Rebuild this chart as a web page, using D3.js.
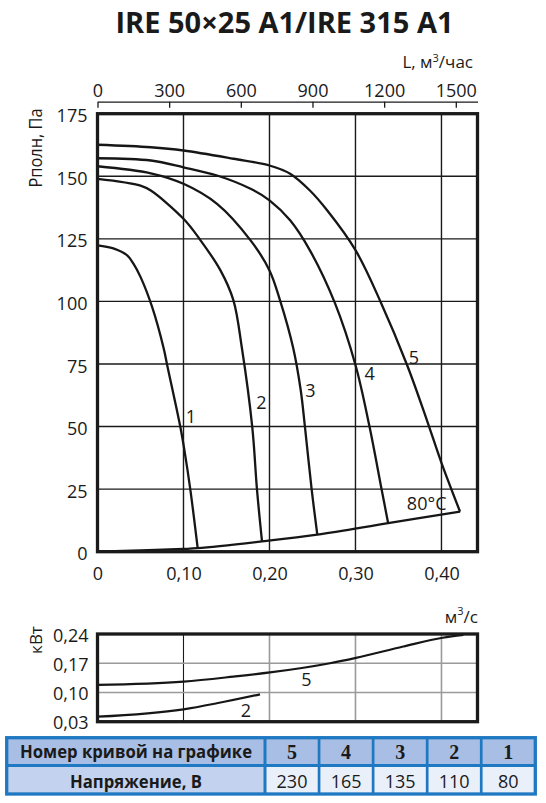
<!DOCTYPE html>
<html>
<head>
<meta charset="utf-8">
<script src="https://cdn.jsdelivr.net/npm/d3@7"></script>
<style>
  body { margin: 0; background: #fff; }
  svg { display: block; font-family: "Open Sans", sans-serif; fill: #1a1a1a; }
</style>
</head>
<body>
<div id="chart"></div>
<script>
// ticks
var flowTicks = [0, 0.1, 0.2, 0.3, 0.4];          // м³/с
var hourTicks = [0, 300, 600, 900, 1200, 1500];    // м³/час
var pressureTicks = [0, 25, 50, 75, 100, 125, 150, 175];
var powerTicks = [0.03, 0.10, 0.17, 0.24];

// fan curves, Q in м³/с, P in Па
var curve1Q = [0, 0.0184, 0.0345, 0.0416, 0.050, 0.0635, 0.077, 0.081, 0.0964, 0.101, 0.108, 0.1165];
var curve1P = [122.4, 121.2, 118.4, 115.2, 109.8, 97.8, 81.2, 74.6, 49.7, 40.7, 24.7, 1.4];
var curve2Q = [0, 0.050, 0.062, 0.100, 0.119, 0.143, 0.158, 0.168, 0.180, 0.1855, 0.1913];
var curve2P = [149, 146.3, 144.3, 133, 124.8, 112.4, 100.5, 81.2, 49.7, 24.7, 4.1];
var curve3Q = [0, 0.062, 0.100, 0.139, 0.178, 0.200, 0.2122, 0.2277, 0.2363, 0.2413, 0.2491, 0.2556];
var curve3P = [154, 151.2, 147, 139, 124.4, 112.4, 100.5, 81.2, 64.6, 49.7, 24.7, 6.8];
var curve4Q = [0, 0.062, 0.100, 0.139, 0.178, 0.200, 0.224, 0.247, 0.276, 0.300, 0.316, 0.3305, 0.338];
var curve4P = [157.2, 156.3, 153.6, 150.3, 145, 140.4, 132.4, 120.4, 99.4, 74.6, 50.5, 24.7, 11.4];
var curve5Q = [0, 0.062, 0.100, 0.158, 0.200, 0.224, 0.247, 0.267, 0.300, 0.329, 0.360, 0.383, 0.400, 0.4216];
var curve5P = [162.6, 161.6, 160.3, 157.0, 154.3, 151, 144.3, 136.4, 120.5, 100, 74.6, 52.6, 35.5, 16];

// 80°C line joining the curve ends
var systemQ = [0, 0.05, 0.1, 0.1165, 0.1913, 0.2556, 0.338, 0.4216];
var systemP = [0, 0.5, 1.1, 1.4, 4.1, 6.8, 11.4, 16];

// curve number labels (anchor point in Q / P)
var labelText = ["1", "2", "3", "4", "5", "80°C"];
var labelQ = [0.1087, 0.1905, 0.2477, 0.3165, 0.368, 0.3828];
var labelP = [51.3, 56.9, 61.9, 68.6, 75.0, 16.7];

// power, кВт
var power5Q = [0, 0.1, 0.158, 0.2006, 0.2703, 0.3006, 0.3556, 0.4014, 0.4256];
var power5N = [0.118, 0.126, 0.138, 0.148, 0.170, 0.183, 0.210, 0.231, 0.238];
var power2Q = [0, 0.1, 0.1387, 0.189];
var power2N = [0.042, 0.0597, 0.0741, 0.0956];
var powerLabelText = ["5", "2"];
var powerLabelQ = [0.243, 0.1727];
var powerLabelN = [0.1162, 0.042];

// table
var tableCurves = [5, 4, 3, 2, 1];
var tableVoltage = [230, 165, 135, 110, 80];

var W = 546, H = 803;
var svg = d3.select("#chart").append("svg")
    .attr("width", W)
    .attr("height", H);

var qMax = 0.4419;
var x = d3.scaleLinear().domain([0, qMax]).range([97.5, 477.5]);
var xh = d3.scaleLinear().domain([0, qMax * 3600]).range([97.5, 477.5]);
var y = d3.scaleLinear().domain([0, 175]).range([551.7, 113.7]);
var yp = d3.scaleLinear().domain([0.03, 0.24]).range([721.7, 634]);

function comma(v) {
    return v === 0 ? "0" : d3.format(".2f")(v).replace(".", ",");
}

// title
svg.append("text")
    .attr("x", 284.5).attr("y", 32.5)
    .attr("text-anchor", "middle")
    .attr("textLength", 338).attr("lengthAdjust", "spacingAndGlyphs")
    .style("font-size", "28px").style("font-weight", "bold")
    .text("IRE 50×25 A1/IRE 315 A1");

// top axis, м³/час
var topAxis = svg.append("g")
    .attr("transform", "translate(0,101.7)")
    .call(d3.axisTop(xh).tickValues(hourTicks).tickFormat(d3.format("d"))
        .tickSizeInner(-6).tickSizeOuter(0).tickPadding(5));
topAxis.selectAll("path, line").attr("stroke", "#1a1a1a").attr("stroke-width", 1.3);
topAxis.selectAll("text").style("font-size", "18px").style("font-family", "Open Sans").attr("fill", "#1a1a1a");

var lt = svg.append("text")
    .attr("x", 473).attr("y", 67.7)
    .attr("text-anchor", "end")
    .style("font-size", "17px");
lt.append("tspan").text("L, м");
lt.append("tspan").attr("dy", -6).style("font-size", "11px").text("3");
lt.append("tspan").attr("dy", 6).text("/час");

// main grid
var grid = svg.append("g").attr("stroke", "#1a1a1a").attr("stroke-width", 1.4);
grid.selectAll(".vx").data(flowTicks.slice(1)).enter().append("line")
    .attr("x1", d => x(d)).attr("x2", d => x(d))
    .attr("y1", y(0)).attr("y2", y(175));
grid.selectAll(".hy").data(pressureTicks.slice(1, -1)).enter().append("line")
    .attr("x1", x(0)).attr("x2", x(qMax))
    .attr("y1", d => y(d)).attr("y2", d => y(d));

// curves
var line = d3.line()
    .x(d => x(d[0]))
    .y(d => y(d[1]))
    .curve(d3.curveCatmullRom.alpha(0.5));

var curves = [
    [curve1Q, curve1P], [curve2Q, curve2P], [curve3Q, curve3P],
    [curve4Q, curve4P], [curve5Q, curve5P], [systemQ, systemP]
];
svg.append("g").selectAll("path")
    .data(curves.map(c => d3.zip(c[0], c[1])))
    .enter().append("path")
    .attr("d", line)
    .attr("fill", "none")
    .attr("stroke", "#161616")
    .attr("stroke-width", 2.3)
    .attr("stroke-linejoin", "round");

// border
svg.append("rect")
    .attr("x", x(0)).attr("y", y(175))
    .attr("width", x(qMax) - x(0)).attr("height", y(0) - y(175))
    .attr("fill", "none").attr("stroke", "#1a1a1a").attr("stroke-width", 3.3);

// curve labels
svg.append("g").selectAll("text")
    .data(labelText)
    .enter().append("text")
    .attr("x", (d, i) => x(labelQ[i]))
    .attr("y", (d, i) => y(labelP[i]))
    .attr("text-anchor", "middle")
    .style("font-size", "18px")
    .text(d => d);

// left axis
var leftAxis = svg.append("g")
    .attr("transform", "translate(" + x(0) + ",0)")
    .call(d3.axisLeft(y).tickValues(pressureTicks).tickSize(0).tickPadding(10));
leftAxis.select(".domain").remove();
leftAxis.selectAll("text").attr("dy", "0.45em").style("font-size", "18px")
    .style("font-family", "Open Sans").attr("fill", "#1a1a1a");

svg.append("text")
    .attr("transform", "translate(42,148) rotate(-90)")
    .attr("text-anchor", "middle")
    .attr("textLength", 79).attr("lengthAdjust", "spacingAndGlyphs")
    .style("font-size", "18px")
    .text("Рполн, Па");

// bottom axis
var bottomAxis = svg.append("g")
    .attr("transform", "translate(0," + y(0) + ")")
    .call(d3.axisBottom(x).tickValues(flowTicks).tickFormat(comma).tickSize(0).tickPadding(16));
bottomAxis.select(".domain").remove();
bottomAxis.selectAll("text").style("font-size", "18px")
    .style("font-family", "Open Sans").attr("fill", "#1a1a1a");

var ut = svg.append("text")
    .attr("x", 478).attr("y", 623)
    .attr("text-anchor", "end")
    .style("font-size", "17px");
ut.append("tspan").text("м");
ut.append("tspan").attr("dy", -8).style("font-size", "11px").text("3");
ut.append("tspan").attr("dy", 8).text("/с");

// power chart
var pgrid = svg.append("g");
pgrid.selectAll(".pv").data(flowTicks.slice(1)).enter().append("line")
    .attr("x1", d => x(d)).attr("x2", d => x(d))
    .attr("y1", yp(0.03)).attr("y2", yp(0.24))
    .attr("stroke", (d, i) => i === 0 ? "#1a1a1a" : "#9a9a9a")
    .attr("stroke-width", (d, i) => i === 0 ? 1.1 : 1.6);
pgrid.selectAll(".ph").data(powerTicks.slice(1, -1)).enter().append("line")
    .attr("x1", x(0)).attr("x2", x(qMax))
    .attr("y1", d => yp(d)).attr("y2", d => yp(d))
    .attr("stroke", "#9a9a9a").attr("stroke-width", 1.6);

var pline = d3.line()
    .x(d => x(d[0]))
    .y(d => yp(d[1]))
    .curve(d3.curveMonotoneX);
svg.append("g").selectAll("path")
    .data([d3.zip(power5Q, power5N), d3.zip(power2Q, power2N)])
    .enter().append("path")
    .attr("d", pline)
    .attr("fill", "none")
    .attr("stroke", "#161616")
    .attr("stroke-width", 2.2);

svg.append("rect")
    .attr("x", x(0)).attr("y", yp(0.24))
    .attr("width", x(qMax) - x(0)).attr("height", yp(0.03) - yp(0.24))
    .attr("fill", "none").attr("stroke", "#1a1a1a").attr("stroke-width", 3.3);

svg.append("g").selectAll("text")
    .data(powerLabelText)
    .enter().append("text")
    .attr("x", (d, i) => x(powerLabelQ[i]))
    .attr("y", (d, i) => yp(powerLabelN[i]))
    .attr("text-anchor", "middle")
    .style("font-size", "18px")
    .text(d => d);

var powerAxis = svg.append("g")
    .attr("transform", "translate(" + x(0) + ",0)")
    .call(d3.axisLeft(yp).tickValues(powerTicks).tickFormat(comma).tickSize(0).tickPadding(9));
powerAxis.select(".domain").remove();
powerAxis.selectAll("text").attr("dy", "0.4em").style("font-size", "18px")
    .style("font-family", "Open Sans").attr("fill", "#1a1a1a");

svg.append("text")
    .attr("transform", "translate(41.7,640) rotate(-90)")
    .attr("text-anchor", "middle")
    .style("font-size", "17px")
    .text("кВт");

// table
var tblBlue = "#1f79c2";
var col = d3.scaleBand().domain(tableCurves).range([265, 535.3]);
var tx0 = 6.7, tTop = 737.7, tMid = 765.5, tBot = 794;

var table = svg.append("g");
table.append("rect")
    .attr("x", tx0).attr("y", tTop).attr("width", 535.3 - tx0).attr("height", tMid - tTop)
    .attr("fill", "#a8bee4");
table.append("rect")
    .attr("x", tx0).attr("y", tMid).attr("width", 265 - tx0).attr("height", tBot - tMid)
    .attr("fill", "#c3d2ee");
table.append("rect")
    .attr("x", 265).attr("y", tMid).attr("width", 535.3 - 265).attr("height", tBot - tMid)
    .attr("fill", "#eaf0fa");

table.selectAll(".cs").data(tableCurves.slice(1)).enter().append("line")
    .attr("x1", d => col(d)).attr("x2", d => col(d))
    .attr("y1", tTop).attr("y2", tBot)
    .attr("stroke", tblBlue).attr("stroke-width", 2.7);
table.append("line")
    .attr("x1", 265).attr("x2", 265).attr("y1", tTop).attr("y2", tBot)
    .attr("stroke", tblBlue).attr("stroke-width", 3);
table.append("line")
    .attr("x1", tx0).attr("x2", 535.3).attr("y1", tMid).attr("y2", tMid)
    .attr("stroke", tblBlue).attr("stroke-width", 3);
table.append("rect")
    .attr("x", tx0).attr("y", tTop).attr("width", 535.3 - tx0).attr("height", tBot - tTop)
    .attr("fill", "none").attr("stroke", tblBlue).attr("stroke-width", 3.3);

table.append("text")
    .attr("x", 136).attr("y", 758.3)
    .attr("text-anchor", "middle")
    .attr("textLength", 232).attr("lengthAdjust", "spacingAndGlyphs")
    .style("font-size", "18px").style("font-weight", "bold")
    .text("Номер кривой на графике");
table.append("text")
    .attr("x", 136).attr("y", 787.7)
    .attr("text-anchor", "middle")
    .attr("textLength", 132).attr("lengthAdjust", "spacingAndGlyphs")
    .style("font-size", "18px").style("font-weight", "bold")
    .text("Напряжение, В");

table.selectAll(".cn").data(tableCurves).enter().append("text")
    .attr("x", d => col(d) + col.bandwidth() / 2)
    .attr("y", 759.3)
    .attr("text-anchor", "middle")
    .style("font-family", "'Liberation Serif', serif")
    .style("font-size", "20px").style("font-weight", "bold")
    .text(d => d);
table.selectAll(".cv").data(tableVoltage).enter().append("text")
    .attr("x", (d, i) => col(tableCurves[i]) + col.bandwidth() / 2)
    .attr("y", 787.7)
    .attr("text-anchor", "middle")
    .style("font-size", "18px")
    .text(d => d);
</script>
</body>
</html>
